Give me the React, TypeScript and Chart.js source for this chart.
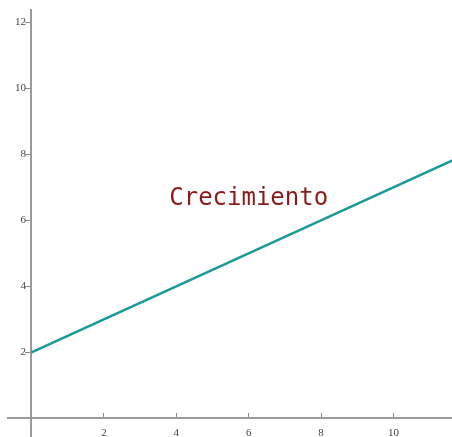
import React, { useEffect, useRef } from 'react';
import { Chart, registerables } from 'chart.js';

Chart.register(...registerables);

// Data
const lineX = [0, 12];
const lineY = [2, 8];
const xTicks = [2, 4, 6, 8, 10];
const yTicks = [2, 4, 6, 8, 10, 12];
const annotationText = 'Crecimiento';
const annotationX = [6];
const annotationY = [6.65];

const X_MIN = -0.649;
const X_MAX = 11.616;
const Y_MIN = -0.567;
const Y_MAX = 12.373;

const noPadding = (s: any) => {
  s.paddingTop = 0;
  s.paddingBottom = 0;
  s.paddingLeft = 0;
  s.paddingRight = 0;
};

export default function App() {
  const ref = useRef<HTMLCanvasElement>(null);

  useEffect(() => {
    document.body.style.margin = '0';
    const canvas = ref.current;
    if (!canvas) return;

    const annotate = {
      id: 'annotate',
      afterDatasetsDraw(chart: any) {
        const { ctx, scales } = chart;
        const px = scales.x.getPixelForValue(annotationX[0]);
        const py = scales.y.getPixelForValue(annotationY[0]);
        ctx.save();
        ctx.font = '24px "DejaVu Sans Mono"';
        ctx.fillStyle = '#8b1a1a';
        ctx.textAlign = 'center';
        ctx.textBaseline = 'middle';
        ctx.fillText(annotationText, px, py);
        ctx.restore();
      },
    };

    const tickFont = { family: '"Liberation Serif", serif', size: 11 };

    const chart = new Chart(canvas, {
      type: 'scatter',
      data: {
        datasets: [
          {
            data: lineX.map((x, i) => ({ x, y: lineY[i] })),
            showLine: true,
            borderColor: '#1a9a96',
            borderWidth: 2.5,
            pointRadius: 0,
            fill: false,
          },
        ],
      },
      options: {
        responsive: false,
        animation: false,
        layout: { padding: { left: 8, top: 10, right: 0, bottom: 0 } },
        plugins: { legend: { display: false }, tooltip: { enabled: false } },
        scales: {
          x: {
            type: 'linear',
            min: X_MIN,
            max: X_MAX,
            position: { y: 0 } as any,
            afterBuildTicks: (s: any) => {
              s.ticks = xTicks.map((v) => ({ value: v }));
            },
            afterFit: noPadding,
            ticks: { font: tickFont, color: '#444', padding: 14 },
            grid: { drawOnChartArea: false, drawTicks: true, tickLength: -6, color: '#8a8a8a', lineWidth: 1 },
            border: { display: true, color: '#9a9a9a', width: 2 },
          },
          y: {
            type: 'linear',
            min: Y_MIN,
            max: Y_MAX,
            position: { x: 0 } as any,
            afterBuildTicks: (s: any) => {
              s.ticks = yTicks.map((v) => ({ value: v }));
            },
            afterFit: noPadding,
            ticks: { display: false },
            grid: { drawOnChartArea: false, drawTicks: true, tickLength: 5, color: '#8a8a8a', lineWidth: 1 },
            border: { display: true, color: '#9a9a9a', width: 2 },
          },
          y2: {
            type: 'linear',
            axis: 'y',
            min: Y_MIN,
            max: Y_MAX,
            position: { x: -0.15 } as any,
            afterBuildTicks: (s: any) => {
              s.ticks = yTicks.map((v) => ({ value: v }));
            },
            afterFit: noPadding,
            ticks: { font: tickFont, color: '#444' },
            grid: { display: false },
            border: { display: false },
          },
        },
      },
      plugins: [annotate],
    });

    return () => chart.destroy();
  }, []);

  return <canvas ref={ref} width={452} height={437} style={{ display: 'block' }} />;
}
